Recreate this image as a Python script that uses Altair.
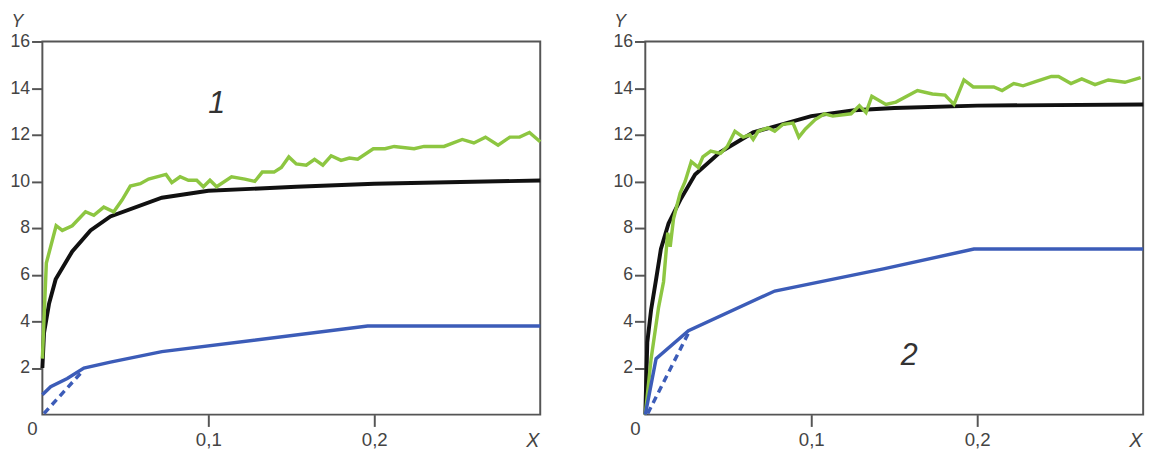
import altair as alt
import pandas as pd

# ---------- panel 1 ----------
black1_x = [0, 0.001, 0.004, 0.008, 0.018, 0.029, 0.041, 0.072, 0.1, 0.153, 0.2, 0.3]
black1_y = [2.0, 3.5, 4.75, 5.8, 7.0, 7.9, 8.5, 9.3, 9.6, 9.77, 9.9, 10.04]

green1_x = [0, 0.0024, 0.0083, 0.012, 0.018, 0.026, 0.031, 0.037, 0.043, 0.048, 0.053, 0.059,
            0.064, 0.0745, 0.078, 0.083, 0.088, 0.093, 0.097, 0.101, 0.105, 0.114, 0.122, 0.128,
            0.1325, 0.1396, 0.144, 0.1485, 0.153, 0.159, 0.164, 0.169, 0.174, 0.18, 0.185, 0.19,
            0.1994, 0.2065, 0.212, 0.224, 0.23, 0.242, 0.253, 0.26, 0.267, 0.2746, 0.2817, 0.2876,
            0.2935, 0.3]
green1_y = [2.4, 6.5, 8.1, 7.9, 8.1, 8.7, 8.55, 8.9, 8.7, 9.2, 9.8, 9.9,
            10.1, 10.3, 9.95, 10.2, 10.05, 10.05, 9.77, 10.05, 9.77, 10.2, 10.1, 10.0,
            10.4, 10.4, 10.6, 11.05, 10.75, 10.7, 10.95, 10.7, 11.1, 10.9, 11.0, 10.95,
            11.4, 11.4, 11.5, 11.4, 11.5, 11.5, 11.8, 11.65, 11.9, 11.55, 11.9, 11.9,
            12.1, 11.7]

blue1_x = [0, 0.005, 0.015, 0.025, 0.041, 0.072, 0.196, 0.3]
blue1_y = [0.85, 1.2, 1.55, 2.0, 2.25, 2.7, 3.8, 3.8]

dash1_x = [0.001, 0.024]
dash1_y = [0.05, 1.85]

# ---------- panel 2 ----------
black2_x = [0, 0.0012, 0.0035, 0.0065, 0.0094, 0.014, 0.021, 0.030, 0.045, 0.065, 0.1, 0.126, 0.15, 0.2, 0.3]
black2_y = [0, 3.1, 4.5, 5.8, 7.1, 8.2, 9.2, 10.3, 11.25, 12.1, 12.8, 13.05, 13.15, 13.25, 13.3]

green2_x = [0, 0.0035, 0.008, 0.011, 0.0135, 0.015, 0.017, 0.021, 0.024, 0.0277, 0.032,
            0.0347, 0.0394, 0.0453, 0.0494, 0.054, 0.059, 0.063, 0.065, 0.068, 0.074, 0.078, 0.083,
            0.089, 0.0925, 0.0965, 0.1024, 0.108, 0.113, 0.124, 0.129, 0.133, 0.1365, 0.145, 0.151,
            0.164, 0.173, 0.1806, 0.186, 0.192, 0.1976, 0.21, 0.215, 0.222, 0.2276, 0.236, 0.2447,
            0.249, 0.2565, 0.263, 0.271, 0.279, 0.289, 0.2985]
green2_y = [0, 2.4, 4.6, 5.7, 7.8, 7.2, 8.4, 9.5, 10.0, 10.85, 10.6,
            11.05, 11.3, 11.2, 11.5, 12.15, 11.9, 12.0, 11.8, 12.15, 12.3, 12.15, 12.45,
            12.5, 11.9, 12.25, 12.65, 12.9, 12.8, 12.9, 13.25, 12.95, 13.65, 13.3, 13.4,
            13.9, 13.75, 13.7, 13.3, 14.35, 14.05, 14.05, 13.9, 14.2, 14.1, 14.3, 14.5,
            14.5, 14.2, 14.4, 14.15, 14.35, 14.25, 14.45]

blue2_x = [0, 0.0065, 0.026, 0.078, 0.1435, 0.198, 0.3]
blue2_y = [0, 2.4, 3.6, 5.3, 6.25, 7.1, 7.1]

dash2_x = [0.0015, 0.026]
dash2_y = [0.05, 3.5]

x_ticks = [0.1, 0.2]
y_ticks = [2, 4, 6, 8, 10, 12, 14, 16]
panel_labels = ["1", "2"]
panel_label_pos = [(0.105, 13.3), (0.159, 2.5)]

GREEN = "#8dc641"
BLUE = "#3c5cb8"
BLACK = "#111111"
TEXT = "#444444"
FONT = "Liberation Sans"
W, H = 507, 380


def df(xs, ys):
    return pd.DataFrame({"x": xs, "y": ys})


def make_panel(bx, by, gx, gy, blx, bly, dx_, dy_, label, pos):
    xs = alt.Scale(domain=[0, 0.3], nice=False, zero=False)
    ys = alt.Scale(domain=[0, 16], nice=False)
    ex = alt.X("x:Q", scale=xs, axis=alt.Axis(
        values=x_ticks,
        labelExpr="replace(format(datum.value, '.1f'), '.', ',')",
        labelFontSize=19,
        title="X", titleX=W - 8, titleY=16, titleBaseline="top", titleAlign="center",
        titleFontStyle="italic", titleFontWeight="normal", titleFontSize=20,
        titleColor=TEXT, titleFont=FONT,
        tickSize=12, labelPadding=4))
    ey = alt.Y("y:Q", scale=ys, axis=alt.Axis(
        values=y_ticks, labelFontSize=18,
        title="Y", titleAngle=0, titleX=-26, titleY=-29,
        titleBaseline="top", titleAlign="center",
        titleFontStyle="italic", titleFontWeight="normal", titleFontSize=18,
        titleColor=TEXT, titleFont=FONT,
        tickSize=11, labelPadding=2, minExtent=33, maxExtent=33))

    black = alt.Chart(df(bx, by)).mark_line(color=BLACK, strokeWidth=4).encode(x=ex, y=ey)
    green = alt.Chart(df(gx, gy)).mark_line(color=GREEN, strokeWidth=3.5).encode(x=ex, y=ey)
    blue = alt.Chart(df(blx, bly)).mark_line(color=BLUE, strokeWidth=3.5).encode(x=ex, y=ey)
    dash = alt.Chart(df(dx_, dy_)).mark_line(color=BLUE, strokeWidth=3.5,
                                              strokeDash=[7, 5]).encode(x=ex, y=ey)
    lab = alt.Chart(pd.DataFrame({"x": [pos[0]], "y": [pos[1]], "t": [label]})).mark_text(
        fontSize=31, fontStyle="italic", font=FONT, color="#333333",
        align="center", baseline="middle").encode(x=ex, y=ey, text="t:N")
    zero = alt.Chart(pd.DataFrame({"x": [0], "y": [0], "t": ["0"]})).mark_text(
        fontSize=19, font=FONT, color=TEXT, align="center", baseline="middle",
        dx=-10, dy=15).encode(x=ex, y=ey, text="t:N")
    return alt.layer(black, green, blue, dash, lab, zero).properties(width=W, height=H)


p1 = make_panel(black1_x, black1_y, green1_x, green1_y, blue1_x, blue1_y,
                dash1_x, dash1_y, panel_labels[0], panel_label_pos[0])
p2 = make_panel(black2_x, black2_y, green2_x, green2_y, blue2_x, blue2_y,
                dash2_x, dash2_y, panel_labels[1], panel_label_pos[1])

chart = alt.hconcat(p1, p2, spacing=63).properties(padding=0).configure_view(
    stroke="#555555", strokeWidth=2
).configure_axis(
    domain=False, grid=False, tickColor="#555555", tickWidth=2,
    labelColor=TEXT, labelFont=FONT, labelFontSize=18
)

chart.save("out.html", embed_options={"renderer": "svg", "actions": False})
